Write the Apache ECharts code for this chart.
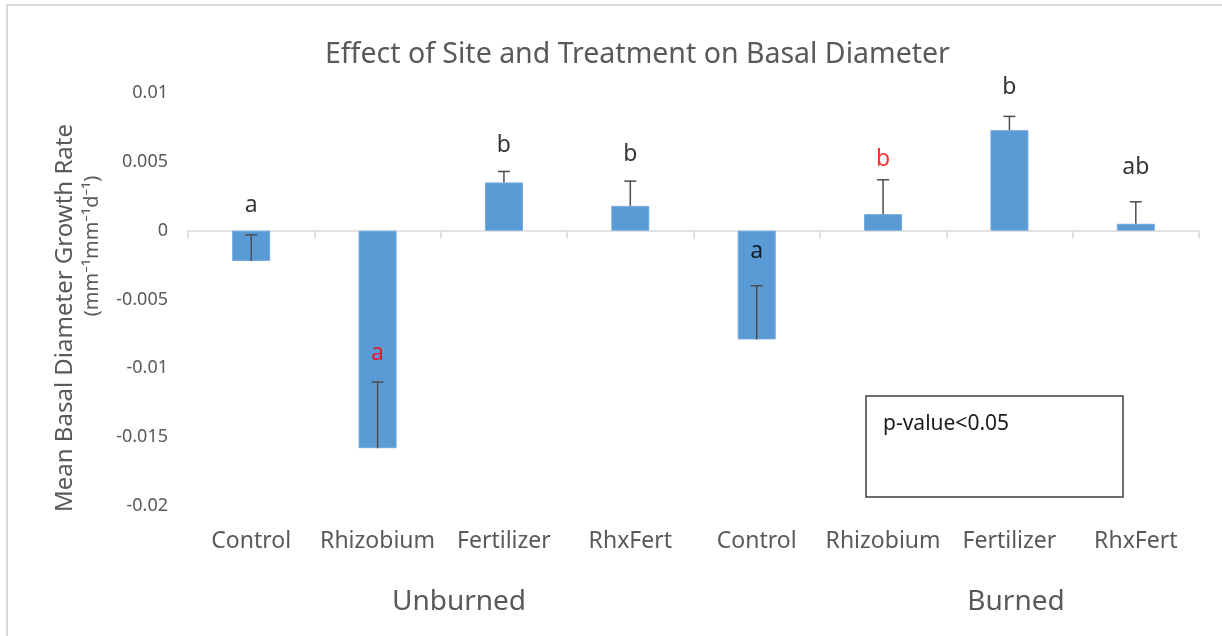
<!DOCTYPE html>
<html>
<head>
<meta charset="utf-8">
<script src="https://cdn.jsdelivr.net/npm/echarts@6/dist/echarts.min.js"></script>
<style>
  html, body { margin: 0; padding: 0; background: #fff; }
  #chart { width: 1222px; height: 636px; }
</style>
</head>
<body>
<div id="chart"></div>
<script>
// treatments, two sites (Unburned then Burned)
var categories = ['Control', 'Rhizobium', 'Fertilizer', 'RhxFert', 'Control', 'Rhizobium', 'Fertilizer', 'RhxFert'];
var groups = ['Unburned', 'Burned'];
var means = [-0.0022, -0.0158, 0.0035, 0.0018, -0.0079, 0.0012, 0.0073, 0.0005];
var errors = [0.0019, 0.0048, 0.0008, 0.0018, 0.0039, 0.0025, 0.0010, 0.0016];
var letters = ['a', 'a', 'b', 'b', 'a', 'b', 'b', 'ab'];
var letterPos = [0.0018, -0.0089, 0.0062, 0.0055, -0.0015, 0.0052, 0.0104, 0.0046];
var letterRed = [false, true, false, false, false, true, false, false];
var yTicks = { min: -0.02, max: 0.01, step: 0.005 };

var grey = '#595959';
var font = 'Noto Sans';

var errData = means.map(function (m, i) { return [i, m, m + errors[i]]; });
var letterData = letterPos.map(function (v, i) {
  return {
    value: [i, v],
    label: { color: letterRed[i] ? '#ff0000' : '#000000' }
  };
});

var myChart = echarts.init(document.getElementById('chart'));
var option = {
  backgroundColor: '#fff',
  animation: false,
  title: {
    text: 'Effect of Site and Treatment on Basal Diameter',
    left: 320,
    top: 35,
    textStyle: { fontFamily: font, fontSize: 28.5, fontWeight: 'normal', color: grey }
  },
  grid: { left: 188, right: 23, top: 93, bottom: 130 },
  xAxis: [
    {
      type: 'category',
      data: categories,
      axisLine: { onZero: true, lineStyle: { color: '#d9d9d9', width: 1.5 } },
      axisTick: { show: true, length: 8, lineStyle: { color: '#d9d9d9', width: 1.5 } },
      axisLabel: { show: false }
    },
    {
      type: 'category',
      data: categories,
      position: 'bottom',
      axisLine: { show: false, onZero: false },
      axisTick: { show: false },
      axisLabel: { interval: 0, margin: 24, fontFamily: font, fontSize: 23, color: grey }
    }
  ],
  yAxis: {
    type: 'value',
    min: yTicks.min,
    max: yTicks.max,
    interval: yTicks.step,
    axisLine: { show: false },
    axisTick: { show: false },
    splitLine: { show: false },
    axisLabel: {
      margin: 20,
      fontFamily: font,
      fontSize: 18,
      color: grey,
      formatter: function (v) { return String(parseFloat(v.toFixed(3))); }
    }
  },
  series: [
    {
      type: 'bar',
      data: means,
      barWidth: 38,
      itemStyle: { color: '#5b9bd5', borderColor: '#6fa9dd', borderWidth: 1 }
    },
    {
      type: 'custom',
      data: errData,
      z: 5,
      clip: false,
      renderItem: function (params, api) {
        var p0 = api.coord([api.value(0), api.value(1)]);
        var p1 = api.coord([api.value(0), api.value(2)]);
        var st = { stroke: '#4d4d4d', lineWidth: 1.5 };
        return {
          type: 'group',
          children: [
            { type: 'line', shape: { x1: p0[0], y1: p0[1], x2: p1[0], y2: p1[1] }, style: st },
            { type: 'line', shape: { x1: p1[0] - 6, y1: p1[1], x2: p1[0] + 6, y2: p1[1] }, style: st }
          ]
        };
      }
    },
    {
      type: 'scatter',
      data: letterData,
      symbolSize: 1,
      clip: false,
      itemStyle: { color: 'rgba(0,0,0,0)' },
      z: 6,
      label: {
        show: true,
        position: 'inside',
        fontFamily: font,
        fontSize: 23,
        formatter: function (p) { return letters[p.dataIndex]; }
      }
    }
  ],
  graphic: [
    {
      type: 'rect',
      shape: { x: 7, y: 5, width: 1240, height: 660 },
      style: { fill: 'none', stroke: '#d9d9d9', lineWidth: 2 },
      silent: true
    },
    {
      type: 'text',
      x: 65, y: 318, rotation: Math.PI / 2,
      style: {
        text: 'Mean Basal Diameter Growth Rate',
        fontFamily: font, fontSize: 24, fill: grey,
        align: 'center', verticalAlign: 'middle'
      }
    },
    {
      type: 'text',
      x: 92, y: 246, rotation: Math.PI / 2,
      style: {
        text: '(mm⁻¹mm⁻¹d⁻¹)',
        fontFamily: font, fontSize: 20, fill: grey,
        align: 'center', verticalAlign: 'middle'
      }
    },
    {
      type: 'text',
      x: 459, y: 602,
      style: { text: groups[0], fontFamily: font, fontSize: 28, fill: grey, align: 'center', verticalAlign: 'middle' }
    },
    {
      type: 'text',
      x: 1016, y: 602,
      style: { text: groups[1], fontFamily: font, fontSize: 28, fill: grey, align: 'center', verticalAlign: 'middle' }
    },
    {
      type: 'rect',
      shape: { x: 866, y: 396, width: 257, height: 101 },
      style: { fill: '#fff', stroke: '#404040', lineWidth: 1.5 }
    },
    {
      type: 'text',
      x: 883, y: 424,
      style: { text: 'p-value<0.05', fontFamily: font, fontSize: 21, fill: '#1a1a1a', align: 'left', verticalAlign: 'middle' }
    }
  ]
};
myChart.setOption(option);
</script>
</body>
</html>
